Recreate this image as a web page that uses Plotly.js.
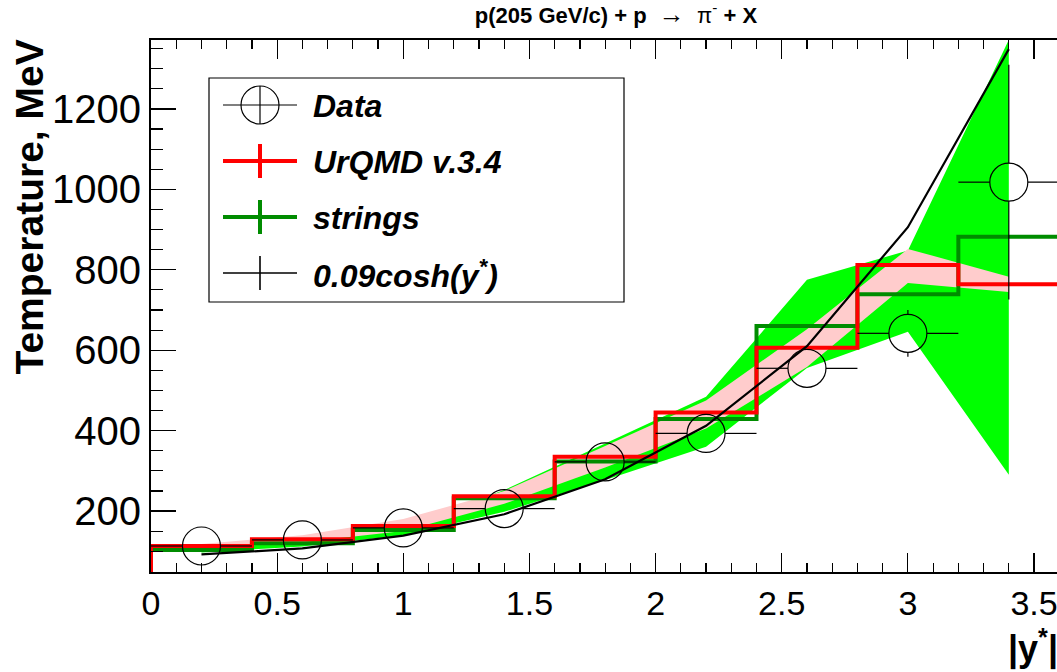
<!DOCTYPE html>
<html><head><meta charset="utf-8">
<script src="https://cdn.plot.ly/plotly-3.0.1.min.js"></script>
<style>html,body{margin:0;padding:0;background:#fff;overflow:hidden}</style>
</head><body>
<div id="chart" style="width:1057px;height:672px"></div>
<script>
// ---- data ----
const binEdges   = [0, 0.4, 0.8, 1.2, 1.6, 2.0, 2.4, 2.8, 3.2, 3.6];
const binCenters = [0.2, 0.6, 1.0, 1.4, 1.8, 2.2, 2.6, 3.0, 3.4];
const dataT      = [113, 128, 158, 206, 322, 393, 555, 642, 1018];
const dataXErr   = [0.2, 0.2, 0.2, 0.2, 0.2, 0.2, 0.2, 0.2, 0.2];
const dataYErr   = [10, 12, 12, 15, 20, 25, 35, 58, 292];
const urqmdT     = [113, 130, 163, 237, 335, 445, 606, 812, 764];
const urqmdUp    = [118, 140, 180, 250, 362, 475, 652, 852, 783];
const urqmdLo    = [108, 122, 150, 218, 308, 405, 558, 767, 745];
const stringsT   = [103, 120, 153, 232, 323, 429, 660, 739, 882];
const stringsUp  = [111, 128, 161, 252, 368, 484, 775, 848, 1372];
const stringsLo  = [97, 112, 140, 198, 277, 360, 556, 646, 290];
const coshT      = [92, 107, 139, 192, 279, 412, 610, 906, 1349];
const legendLabels = ['Data', 'UrQMD v.3.4', 'strings', '0.09cosh(y<sup>*</sup>)'];

// ---- geometry ----
const W = 1057, H = 672;
const M = {l: 151, r: 0, t: 40, b: 100};
const xRange = [0, 3.591];
const yRange = [48.3, 1371.6];
const plotW = W - M.l - M.r, plotH = H - M.t - M.b;
const pxPerX = plotW / (xRange[1] - xRange[0]);
const pxPerY = plotH / (yRange[1] - yRange[0]);
const markerD = 38;
const rX = (markerD / 2) / pxPerX, rY = (markerD / 2) / pxPerY;
const px2x = p => (p - M.l) / plotW;
const py2y = p => (H - M.b - p) / plotH;
const FONT = 'Liberation Sans, Arial, Helvetica, sans-serif';

function hist(values) {
  const x = [binEdges[0]], y = [yRange[0] - 100];
  binEdges.forEach((e, i) => { x.push(e); y.push(i < values.length ? values[i] : values[values.length - 1]); });
  return {x, y};
}
function band(up, lo) {
  return {x: binCenters.concat(binCenters.slice().reverse()), y: up.concat(lo.slice().reverse())};
}

const gB = band(stringsUp, stringsLo), pB = band(urqmdUp, urqmdLo);
const gH = hist(stringsT), rH = hist(urqmdT);

// error segments outside marker circle
const exX = [], exY = [], eyX = [], eyY = [];
binCenters.forEach((c, i) => {
  const v = dataT[i], dx = dataXErr[i], dy = dataYErr[i];
  exX.push(c - dx, c - rX, null, c + rX, c + dx, null);
  exY.push(v, v, null, v, v, null);
  if (dy > rY) {
    eyX.push(c, c, null, c, c, null);
    eyY.push(v + rY, v + dy, null, v - rY, v - dy, null);
  }
});

const traces = [
  {x: gB.x, y: gB.y, type: 'scatter', mode: 'lines', fill: 'toself', fillcolor: '#00ff00', line: {width: 0}, hoverinfo: 'skip'},
  {x: pB.x, y: pB.y, type: 'scatter', mode: 'lines', fill: 'toself', fillcolor: '#ffcccc', line: {width: 0}, hoverinfo: 'skip'},
  {x: gH.x, y: gH.y, type: 'scatter', mode: 'lines', line: {shape: 'hv', color: '#008c00', width: 4}, name: 'strings'},
  {x: rH.x, y: rH.y, type: 'scatter', mode: 'lines', line: {shape: 'hv', color: '#ff0000', width: 4}, name: 'UrQMD v.3.4'},
  {x: binCenters, y: coshT, type: 'scatter', mode: 'lines', line: {color: '#000', width: 2.2}, name: '0.09cosh(y*)'},
  {x: exX, y: exY, type: 'scatter', mode: 'lines', line: {color: '#000', width: 1.2}, hoverinfo: 'skip'},
  {x: eyX, y: eyY, type: 'scatter', mode: 'lines', line: {color: '#000', width: 1.2}, hoverinfo: 'skip'},
  {x: binCenters, y: dataT, type: 'scatter', mode: 'markers', name: 'Data',
   marker: {symbol: 'circle-open', size: markerD, color: '#000', line: {width: 1.2, color: '#000'}}}
];

// legend drawn manually (ROOT style)
const shapes = [
  {type: 'rect', xref: 'paper', yref: 'paper', x0: px2x(209), x1: px2x(624), y0: py2y(302), y1: py2y(78),
   line: {color: '#000', width: 1.2}, fillcolor: '#fff', layer: 'above'}
];
const rowsY = [105, 161, 217, 273];
const symCol = ['#000', '#ff0000', '#008c00', '#000'];
const symW = [1.2, 4, 4, 1.6];
const annotations = [];
rowsY.forEach((ry, i) => {
  if (i === 0) {
    shapes.push({type: 'line', xref: 'paper', yref: 'paper', x0: px2x(223), x1: px2x(297), y0: py2y(ry), y1: py2y(ry), line: {color: '#000', width: 1.2}, layer: 'above'});
    shapes.push({type: 'line', xref: 'paper', yref: 'paper', x0: px2x(260), x1: px2x(260), y0: py2y(ry - 19), y1: py2y(ry + 19), line: {color: '#000', width: 1.2}, layer: 'above'});
    shapes.push({type: 'circle', xref: 'paper', yref: 'paper', x0: px2x(241), x1: px2x(279), y0: py2y(ry + 19), y1: py2y(ry - 19), line: {color: '#000', width: 1.2}, layer: 'above'});
  } else {
    shapes.push({type: 'line', xref: 'paper', yref: 'paper', x0: px2x(223), x1: px2x(297), y0: py2y(ry), y1: py2y(ry), line: {color: symCol[i], width: symW[i]}, layer: 'above'});
    shapes.push({type: 'line', xref: 'paper', yref: 'paper', x0: px2x(260), x1: px2x(260), y0: py2y(ry - 17), y1: py2y(ry + 17), line: {color: symCol[i], width: symW[i]}, layer: 'above'});
  }
  annotations.push({xref: 'paper', yref: 'paper', x: px2x(311), y: py2y(ry + 1), xanchor: 'left', yanchor: 'middle',
    text: '<b><i>' + legendLabels[i] + '</i></b>', showarrow: false,
    font: {family: FONT, size: 32, color: '#000'}});
});
// y-axis title
annotations.push({xref: 'paper', yref: 'paper', x: px2x(29), y: py2y(38), xanchor: 'center', yanchor: 'top',
  textangle: -90, text: '<b>Temperature, MeV</b>', showarrow: false,
  font: {family: FONT, size: 39, color: '#000'}});
// x-axis title
annotations.push({xref: 'paper', yref: 'paper', x: px2x(1006), y: py2y(646), xanchor: 'left', yanchor: 'middle',
  text: '<b>|y<sup>*</sup>|</b>', showarrow: false,
  font: {family: FONT, size: 36, color: '#000'}});

const axisCommon = {showgrid: false, zeroline: false, showline: true, linecolor: '#000', linewidth: 2,
  ticks: 'inside', tickcolor: '#000', tickwidth: 1.2, ticklabeloverflow: 'allow'};

const layout = {
  width: W, height: H, margin: M, paper_bgcolor: '#fff', plot_bgcolor: '#fff', showlegend: false,
  title: {text: '<b>p(205 GeV/c) + p</b>  <span style="font-size:26px">\u2192</span>  \u03c0<sup>-</sup><b> + X</b>',
    x: 616 / W, xanchor: 'center', y: 1 - 15 / H, yanchor: 'middle', yref: 'container',
    font: {family: FONT, size: 22, color: '#000'}},
  xaxis: Object.assign({}, axisCommon, {range: xRange, tick0: 0, dtick: 0.5, ticklen: 19, mirror: 'ticks',
    tickfont: {family: FONT, size: 34, color: '#000'},
    minor: {ticks: 'inside', dtick: 0.1, ticklen: 9, tickcolor: '#000', tickwidth: 1.2}}),
  yaxis: Object.assign({}, axisCommon, {range: yRange, tick0: 0, dtick: 200, ticklen: 25, mirror: false,
    tickfont: {family: FONT, size: 40, color: '#000'},
    minor: {ticks: 'inside', dtick: 50, ticklen: 12, tickcolor: '#000', tickwidth: 1.2}}),
  shapes: shapes, annotations: annotations
};

Plotly.newPlot('chart', traces, layout, {displayModeBar: false, staticPlot: true});
</script>
</body></html>
